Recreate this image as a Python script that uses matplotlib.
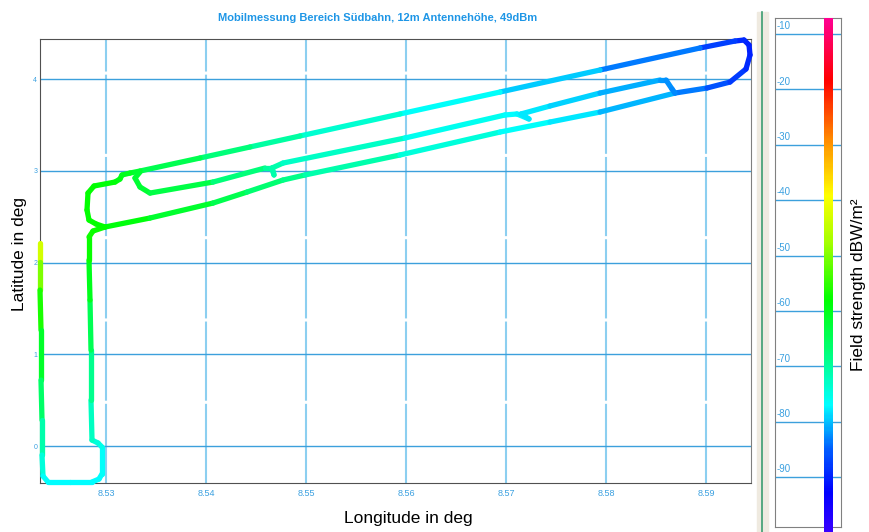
import numpy as np
import matplotlib
matplotlib.use('Agg')
import matplotlib.pyplot as plt
from matplotlib.collections import LineCollection
from matplotlib.colors import LinearSegmentedColormap, Normalize
from matplotlib.patches import Rectangle
from matplotlib.lines import Line2D

plt.rcParams['font.family'] = ['Liberation Sans', 'DejaVu Sans']

# Fahrt 1: Westschleife, untere Linie, Kehre, obere Linie
lon_1 = [8.5234, 8.5234, 8.5234, 8.5235, 8.5235, 8.5236, 8.5236, 8.5237, 8.5242, 8.5264,
         8.5286, 8.5293, 8.5296, 8.5296, 8.5292, 8.5286, 8.5285, 8.5285, 8.5284, 8.5283,
         8.5283, 8.5287, 8.5299, 8.5344, 8.5407, 8.5441, 8.5477, 8.5499, 8.5594, 8.5694,
         8.5744, 8.5794, 8.5869, 8.5901, 8.5924, 8.5940, 8.5944, 8.5943, 8.5938, 8.5929,
         8.5894, 8.5794, 8.5694, 8.5594, 8.5494, 8.5444, 8.5394, 8.5334, 8.5324, 8.5316,
         8.5314, 8.5309, 8.5288, 8.5282, 8.5281, 8.5283, 8.5290, 8.5299]
lat_1 = [2.213, 2.005, 1.700, 1.264, 0.719, 0.283, -0.098, -0.327, -0.392, -0.392,
         -0.392, -0.360, -0.305, -0.011, 0.033, 0.065, 0.501, 1.046, 1.591, 2.027,
         2.278, 2.343, 2.387, 2.485, 2.648, 2.768, 2.899, 2.954, 3.172, 3.422,
         3.531, 3.640, 3.847, 3.902, 3.967, 4.109, 4.262, 4.371, 4.425, 4.414,
         4.338, 4.098, 3.858, 3.619, 3.379, 3.259, 3.139, 2.997, 2.975, 2.954,
         2.910, 2.877, 2.834, 2.757, 2.572, 2.463, 2.420, 2.387]
field_1 = [-40, -46, -54, -59, -63, -69, -73, -76, -77, -77,
           -77, -77, -77, -76, -75, -74, -71, -67, -62, -58,
           -57, -57, -58, -60, -63, -65, -68, -69, -73, -76,
           -77, -79, -82, -85, -87, -89, -90, -90, -90, -89,
           -86, -81, -78, -75, -72, -69, -66, -62, -61, -60,
           -60, -59, -58, -58, -58, -58, -58, -58]

# Fahrt 2: mittlere Linie
lon_2 = [8.5334, 8.5329, 8.5334, 8.5344, 8.5407, 8.5459, 8.5466, 8.5468, 8.5466, 8.5477,
         8.5599, 8.5699, 8.5711, 8.5723, 8.5715, 8.5744, 8.5794, 8.5854, 8.5860, 8.5866,
         8.5869]
lat_2 = [2.986, 2.921, 2.823, 2.757, 2.877, 3.030, 3.030, 2.954, 3.030, 3.084,
         3.357, 3.608, 3.619, 3.564, 3.619, 3.706, 3.847, 3.989, 3.989, 3.891,
         3.847]
field_2 = [-62, -62, -62, -62, -65, -70, -70, -71, -71, -71,
           -75, -77, -77, -78, -78, -78, -80, -82, -82, -83,
           -83]

x_ticks = [8.53, 8.54, 8.55, 8.56, 8.57, 8.58, 8.59]
y_ticks = [0, 1, 2, 3, 4]
cb_ticks = [-10, -20, -30, -40, -50, -60, -70, -80, -90]

cmap_levels = [-101, -93, -85, -77, -68, -58, -48, -39, -30, -18, -7]
cmap_colors = ['#4000ff', '#0000ff', '#0060ff', '#00ffff', '#00ff80', '#00ff00',
               '#a0ff00', '#ffff00', '#ff9900', '#ff0000', '#ff0090']

vmin, vmax = -101, -7
cmap = LinearSegmentedColormap.from_list(
    'feld', [((v - vmin) / (vmax - vmin), c) for v, c in zip(cmap_levels, cmap_colors)])
norm = Normalize(vmin, vmax)

W, H = 869, 532
fig = plt.figure(figsize=(W / 100, H / 100), dpi=100)


def px(l, t, r, b):
    return [l / W, 1 - b / H, (r - l) / W, (b - t) / H]


blau = '#3aa0e0'

ax = fig.add_axes(px(40, 39, 751, 483))
ax.set_xlim(8.5234, 8.5945)
ax.set_ylim(-0.403, 4.436)
for x in x_ticks:
    ax.axvline(x, color='#8ccff0', lw=1.5, ls=(0, (38, 1.5)), zorder=1)
for y in y_ticks:
    ax.axhline(y, color='#3ca0dc', lw=1.0, zorder=1)
ax.set_xticks(x_ticks)
ax.set_xticklabels([f'{x:.2f}' for x in x_ticks])
ax.set_yticks(y_ticks)
ax.set_yticklabels([str(y) for y in y_ticks])
ax.tick_params(axis='x', length=0, pad=4, labelsize=6.5, labelcolor=blau)
ax.tick_params(axis='y', length=0, pad=2, labelsize=5, labelcolor=blau)
for s in ['left', 'bottom', 'top']:
    ax.spines[s].set_color('#505050')
ax.spines['right'].set_color('#808080')

for lo, la, fe in [(lon_1, lat_1, field_1), (lon_2, lat_2, field_2)]:
    pts = np.column_stack([lo, la])
    segs = np.stack([pts[:-1], pts[1:]], axis=1)
    fe = np.array(fe, dtype=float)
    lc = LineCollection(segs, cmap=cmap, norm=norm, linewidths=3.8,
                        capstyle='round', joinstyle='round', zorder=3)
    lc.set_array((fe[:-1] + fe[1:]) / 2)
    lc.set_clip_on(False)
    ax.add_collection(lc)

# Farbskala
cax = fig.add_axes(px(775, 18, 841, 527))
grad = np.linspace(vmin, -7.1, 300).reshape(-1, 1)
im = cax.imshow(grad, extent=[0.742, 0.864, vmin, -7.1], origin='lower',
                cmap=cmap, norm=norm, aspect='auto', zorder=3)
im.set_clip_on(False)
cax.set_xlim(0, 1)
cax.set_ylim(-99, -7.1)
for t in cb_ticks:
    cax.axhline(t, color='#3ca0dc', lw=1.0, zorder=1)
    cax.text(0.03, t + 0.5, str(t), fontsize=7, color=blau, va='bottom', ha='left')
cax.set_xticks([])
cax.set_yticks([])
for s in cax.spines.values():
    s.set_color('#808080')

fig.add_artist(Rectangle((757 / W, 0), 11 / W, 1 - 12 / H, transform=fig.transFigure,
                         color='#efeae0', zorder=0))
fig.add_artist(Line2D([762 / W, 762 / W], [0, 1 - 12 / H], transform=fig.transFigure,
                      color='#3c9c70', lw=1.2))

fig.text(378 / W, 1 - 18 / H, 'Mobilmessung Bereich Südbahn, 12m Antennehöhe, 49dBm',
         ha='center', va='center', fontsize=8, fontweight='bold', color='#1e96e6')
fig.text(408 / W, 1 - 519 / H, 'Longitude in deg', ha='center', va='center', fontsize=12.5)
fig.text(20 / W, 1 - 254 / H, 'Latitude in deg', ha='center', va='center',
         rotation=90, fontsize=12.5)
fig.text(859 / W, 1 - 285 / H, 'Field strength dBW/m²', ha='center', va='center',
         rotation=90, fontsize=12.5)

fig.savefig('out.png', dpi=100, facecolor='white')
